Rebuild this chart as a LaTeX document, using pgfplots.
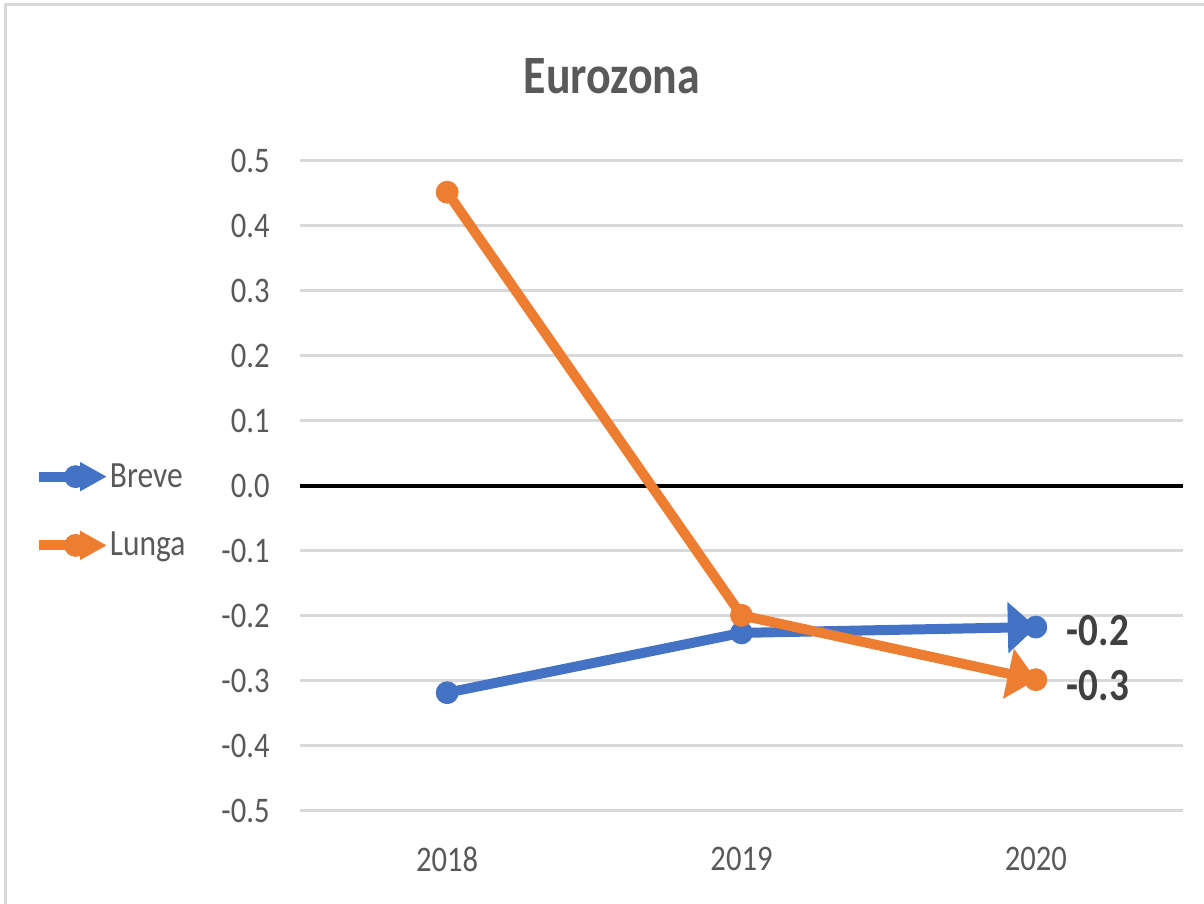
\documentclass[border=0pt]{standalone}
\usepackage{fontspec}
\setmainfont[FakeStretch=0.85]{Carlito}
\usepackage{pgfplots}
\usepackage{pgfplotstable}
\pgfplotsset{compat=1.18}
\usetikzlibrary{decorations.markings}
\definecolor{cblue}{HTML}{4472C4}
\definecolor{corange}{HTML}{ED7D31}
\definecolor{cgrid}{HTML}{D9D9D9}
\definecolor{ctext}{HTML}{595959}
\definecolor{clabel}{HTML}{404040}
\tikzset{
  endarrow/.style={postaction={decorate, decoration={markings,
    mark=at position 1 with {\fill[#1] (-11.5pt,-7.25pt) -- (-3.5pt,0pt) -- (-11.5pt,7.25pt) -- cycle;}}}}
}
\pgfplotstableread{
x breve lunga
0 -0.318 0.452
1 -0.226 -0.199
2 -0.217 -0.298
}\datatab
\begin{document}
\begin{tikzpicture}
\path[use as bounding box] (0,0) rectangle (602pt,452pt);
\draw[cgrid, line width=1.5pt] (2.5pt,0pt) -- (2.5pt,449.5pt) -- (602pt,449.5pt);
\node[font=\fontsize{27}{31}\selectfont\bfseries, text=ctext] at (306pt,414pt) {Eurozona};
\begin{axis}[
  at={(150pt,46.5pt)}, anchor=south west,
  scale only axis, width=441.5pt, height=325pt,
  xmin=-0.5, xmax=2.5, ymin=-0.5, ymax=0.5,
  axis line style={draw=none},
  major tick length=0pt,
  xtick={0,1,2}, xticklabels={2018,2019,2020},
  ytick={-0.5,-0.4,...,0.51},
  yticklabel={\pgfmathprintnumber[fixed,fixed zerofill,precision=1]{\tick}},
  /pgf/number format/assume math mode=true,
  ticklabel style={font=\fontsize{18}{22}\selectfont, text=ctext},
  yticklabel style={anchor=east, inner sep=0pt, xshift=-15pt},
  xticklabel style={anchor=north, inner sep=0pt, yshift=-18pt},
  ymajorgrids, grid style={cgrid, line width=1.5pt},
  extra y ticks={0}, extra y tick labels={},
  extra y tick style={grid style={black, line width=2pt}},
  clip=false,
  legend cell align=left,
  legend style={draw=none, fill=none, at={(-0.309,0.4615)}, anchor=west,
    font=\fontsize{18.5}{22}\selectfont, text=ctext, row sep=17pt,
    /tikz/every even column/.append style={column sep=0pt}},
]
\addplot[forget plot, cblue, line width=5pt, no marks, endarrow=cblue]
  table[x=x, y=breve] {\datatab};
\addplot[forget plot, corange, line width=5pt, no marks, endarrow=corange]
  table[x=x, y=lunga] {\datatab};
\addplot[forget plot, only marks, mark=*, mark size=5.5pt, cblue, mark options={draw=cblue, fill=cblue}]
  table[x=x, y=breve] {\datatab};
\addplot[forget plot, only marks, mark=*, mark size=5.5pt, corange, mark options={draw=corange, fill=corange}]
  table[x=x, y=lunga] {\datatab};
\addlegendimage{legend image code/.code={
    \draw[cblue, line width=5pt] (0pt,0pt) -- (22pt,0pt);
    \fill[cblue] (18.5pt,0pt) circle (5.5pt);
    \fill[cblue] (21pt,-7pt) -- (33.5pt,0pt) -- (21pt,7pt) -- cycle;}}
\addlegendentry{Breve}
\addlegendimage{legend image code/.code={
    \draw[corange, line width=5pt] (0pt,0pt) -- (22pt,0pt);
    \fill[corange] (18.5pt,0pt) circle (5.5pt);
    \fill[corange] (21pt,-7pt) -- (33.5pt,0pt) -- (21pt,7pt) -- cycle;}}
\addlegendentry{Lunga}
\node[anchor=west, xshift=12pt, yshift=-2pt, text=clabel, font=\fontsize{23}{26}\selectfont\bfseries] at (axis cs:2,-0.217) {-0.2};
\node[anchor=west, xshift=12pt, yshift=-3pt, text=clabel, font=\fontsize{23}{26}\selectfont\bfseries] at (axis cs:2,-0.298) {-0.3};
\end{axis}
\end{tikzpicture}
\end{document}
